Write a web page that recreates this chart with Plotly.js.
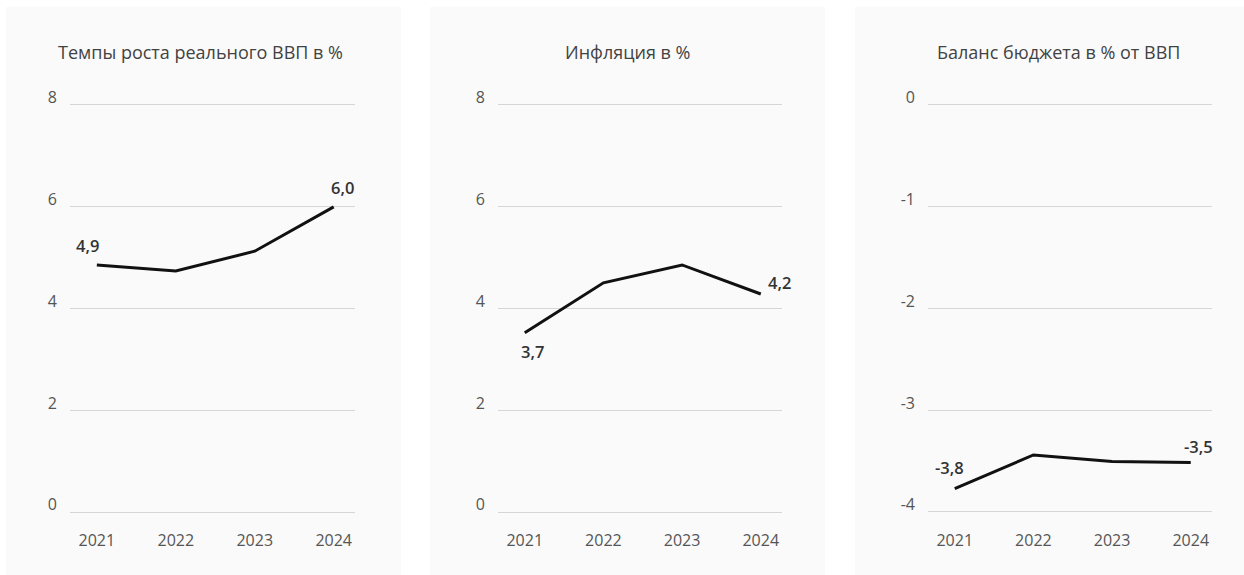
<!DOCTYPE html>
<html>
<head>
<meta charset="utf-8">
<script src="https://cdn.plot.ly/plotly-3.0.1.min.js"></script>
<style>
  html, body { margin: 0; padding: 0; background: #ffffff; }
  #chart { width: 1244px; height: 575px; }
</style>
</head>
<body>
<div id="chart"></div>
<script>
// ---- data ----
const years = ['2021', '2022', '2023', '2024'];

const gdpTitle = 'Темпы роста реального ВВП в %';
const gdpValues = [4.85, 4.73, 5.12, 5.99];
const gdpLabels = ['4,9', '', '', '6,0'];
const gdpTicks = [0, 2, 4, 6, 8];

const inflTitle = 'Инфляция в %';
const inflValues = [3.52, 4.50, 4.85, 4.28];
const inflLabels = ['3,7', '', '', '4,2'];
const inflTicks = [0, 2, 4, 6, 8];

const budgetTitle = 'Баланс бюджета в % от ВВП';
const budgetValues = [-3.77, -3.44, -3.505, -3.515];
const budgetLabels = ['-3,8', '', '', '-3,5'];
const budgetTicks = [-4, -3, -2, -1, 0];

// ---- layout helpers ----
const W = 1244, H = 575;
const FONT = '"Open Sans", "Noto Sans", sans-serif';
const px = v => v / W;
const py = v => 1 - v / H;

const panels = [
  { x0: 6,   x1: 401,  gx0: 70,  gx1: 355,  title: gdpTitle,    vals: gdpValues,    labels: gdpLabels,    ticks: gdpTicks,
    xstand: 14, shifts: [[-9, 19], null, null, [9, 19]] },
  { x0: 430, x1: 825,  gx0: 498, gx1: 782,  title: inflTitle,   vals: inflValues,   labels: inflLabels,   ticks: inflTicks,
    xstand: 14, shifts: [[8, -19], null, null, [19, 11]] },
  { x0: 855, x1: 1244, gx0: 928, gx1: 1212, title: budgetTitle, vals: budgetValues, labels: budgetLabels, ticks: budgetTicks,
    xstand: 11, shifts: [[-5, 21], null, null, [8, 16]] }
];

const data = [];
const layout = {
  width: W, height: H,
  margin: { l: 0, r: 0, t: 0, b: 0 },
  paper_bgcolor: '#ffffff',
  plot_bgcolor: 'rgba(0,0,0,0)',
  showlegend: false,
  font: { family: FONT, color: '#555555' },
  shapes: [],
  annotations: []
};

const PAD = 0.06; // small range padding so edge gridlines are drawn

panels.forEach((p, i) => {
  const n = i === 0 ? '' : String(i + 1);
  const xa = 'x' + n, ya = 'y' + n;
  const lo = p.ticks[0], hi = p.ticks[p.ticks.length - 1];
  const pxPerUnit = (512 - 104.5) / (hi - lo);

  data.push({
    type: 'scatter', mode: 'lines',
    x: years, y: p.vals,
    xaxis: xa, yaxis: ya,
    line: { color: '#111111', width: 3 },
    hoverinfo: 'skip'
  });

  layout['xaxis' + n] = {
    type: 'category',
    domain: [px(p.gx0), px(p.gx1)],
    range: [-0.34, 3.27],
    anchor: ya,
    showgrid: false, zeroline: false, showline: false,
    ticks: '',
    ticklabelstandoff: p.xstand,
    tickfont: { family: FONT, size: 16, color: '#555555' },
    fixedrange: true
  };
  layout['yaxis' + n] = {
    domain: [py(512 + PAD * pxPerUnit), py(104.5 - PAD * pxPerUnit)],
    range: [lo - PAD, hi + PAD],
    anchor: xa,
    tickmode: 'array', tickvals: p.ticks, ticktext: p.ticks.map(String),
    showgrid: true, gridcolor: '#d6d6d6', gridwidth: 1,
    zeroline: false, showline: false,
    ticks: '',
    ticklabelposition: 'outside top',
    ticklabelshift: 4,
    ticklabelstandoff: 12,
    tickfont: { family: FONT, size: 16, color: '#555555' },
    fixedrange: true
  };

  layout.shapes.push({
    type: 'rect', xref: 'paper', yref: 'paper', layer: 'below',
    x0: px(p.x0), x1: px(p.x1), y0: 0, y1: py(7),
    fillcolor: '#fafafa', line: { width: 0 }
  });

  layout.annotations.push({
    xref: 'paper', yref: 'paper',
    x: px((p.gx0 + p.gx1) / 2 - 12), y: py(52),
    xanchor: 'center', yanchor: 'middle',
    text: p.title, showarrow: false,
    font: { family: FONT, size: 18, color: '#424242' }
  });

  p.labels.forEach((lab, k) => {
    if (!lab) return;
    const s = p.shifts[k];
    layout.annotations.push({
      xref: xa, yref: ya,
      x: k, y: p.vals[k],
      xanchor: 'center', yanchor: 'middle',
      xshift: s[0], yshift: s[1],
      text: lab, showarrow: false,
      font: { family: FONT, size: 16.5, color: '#333333', weight: 600 }
    });
  });
});

Plotly.newPlot('chart', data, layout, { displayModeBar: false, staticPlot: true });
</script>
</body>
</html>
